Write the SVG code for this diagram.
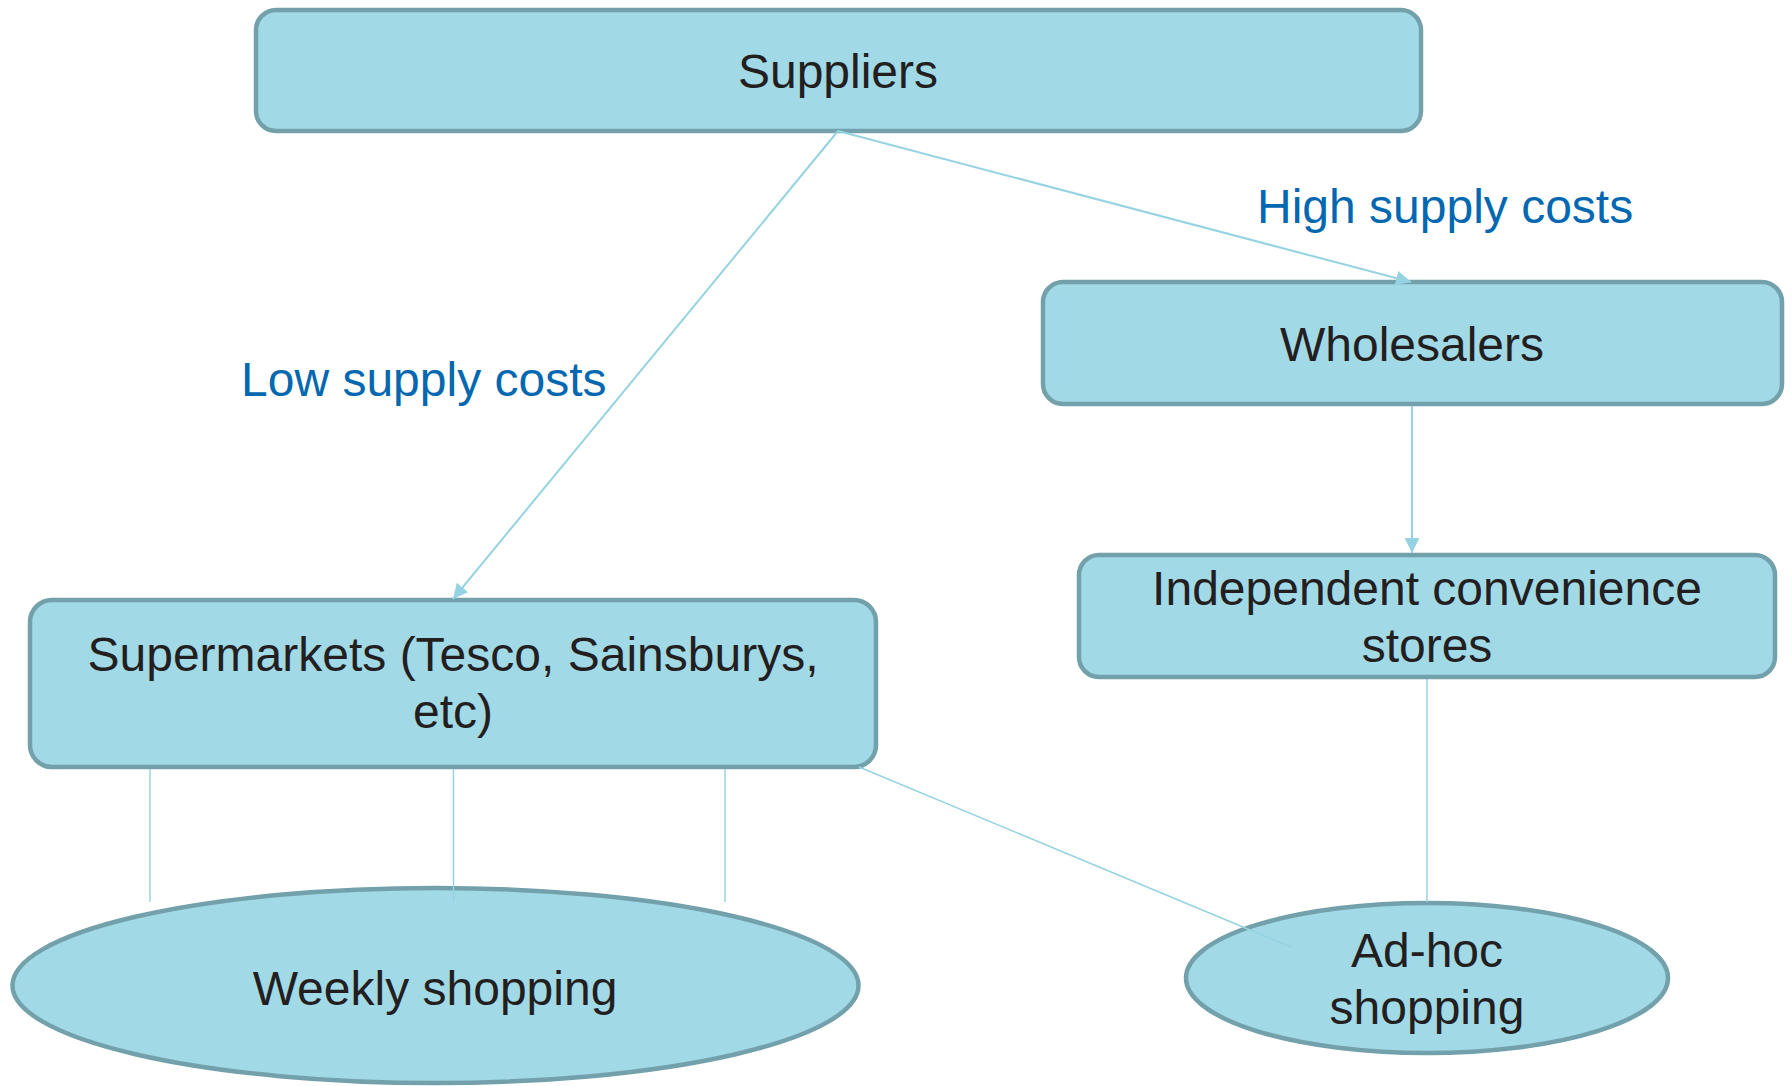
<svg xmlns="http://www.w3.org/2000/svg" width="1792" height="1086" viewBox="0 0 1792 1086">
  <style>
    .box { fill: #A1D9E7; stroke: #73A1AB; stroke-width: 4.5; }
    .lbl { font-family: "Liberation Sans", Arial, sans-serif; font-size: 48px; fill: #231F20; text-anchor: middle; }
    .cost { font-family: "Liberation Sans", Arial, sans-serif; font-size: 48px; fill: #0468B1; }
    .link { fill: none; stroke: #96D3E2; stroke-width: 2; }
    .thin { fill: none; stroke: #96D3E2; stroke-width: 1.5; }
  </style>
  <defs>
    <marker id="arrow" viewBox="0 0 10 10" refX="10" refY="5" markerWidth="7.5" markerHeight="7.5" markerUnits="strokeWidth" orient="auto">
      <path d="M0,0 L10,5 L0,10 z" fill="#96D3E2"/>
    </marker>
  </defs>
  <rect width="1792" height="1086" fill="#FFFFFF"/>

  <!-- nodes -->
  <g id="suppliers">
    <rect class="box" x="256" y="10" width="1165" height="121" rx="20" ry="20"/>
    <text class="lbl" x="838" y="88">Suppliers</text>
  </g>
  <g id="wholesalers">
    <rect class="box" x="1043" y="282" width="739" height="122" rx="20" ry="20"/>
    <text class="lbl" x="1412" y="361">Wholesalers</text>
  </g>
  <g id="independent">
    <rect class="box" x="1079" y="555" width="696" height="122" rx="20" ry="20"/>
    <text class="lbl" x="1427" y="605">Independent convenience</text>
    <text class="lbl" x="1427" y="662">stores</text>
  </g>
  <g id="supermarkets">
    <rect class="box" x="30" y="600" width="846" height="167" rx="22" ry="22"/>
    <text class="lbl" x="453" y="671">Supermarkets (Tesco, Sainsburys,</text>
    <text class="lbl" x="453" y="728">etc)</text>
  </g>
  <g id="weekly">
    <ellipse class="box" cx="435.5" cy="985.5" rx="423" ry="97.5"/>
    <text class="lbl" x="435" y="1005">Weekly shopping</text>
  </g>
  <g id="adhoc">
    <ellipse class="box" cx="1427" cy="978" rx="241" ry="75"/>
    <text class="lbl" x="1427" y="967">Ad-hoc</text>
    <text class="lbl" x="1427" y="1024">shopping</text>
  </g>

  <!-- cost labels -->
  <g id="labels">
    <text class="cost" x="1257" y="223">High supply costs</text>
    <text class="cost" x="241" y="396">Low supply costs</text>
  </g>

  <!-- connectors -->
  <g id="connectors">
    <line class="link" x1="838" y1="131" x2="453" y2="599" marker-end="url(#arrow)"/>
    <line class="link" x1="838" y1="131" x2="1411" y2="282" marker-end="url(#arrow)"/>
    <line class="link" x1="1412" y1="406" x2="1412" y2="553" marker-end="url(#arrow)"/>
    <line class="thin" x1="1427" y1="679" x2="1427" y2="902"/>
    <line class="thin" x1="150" y1="769" x2="150" y2="902"/>
    <line class="thin" x1="453.5" y1="769" x2="453.5" y2="902"/>
    <line class="thin" x1="725" y1="769" x2="725" y2="902"/>
    <line class="thin" x1="859" y1="767" x2="1291" y2="947"/>
  </g>
</svg>
